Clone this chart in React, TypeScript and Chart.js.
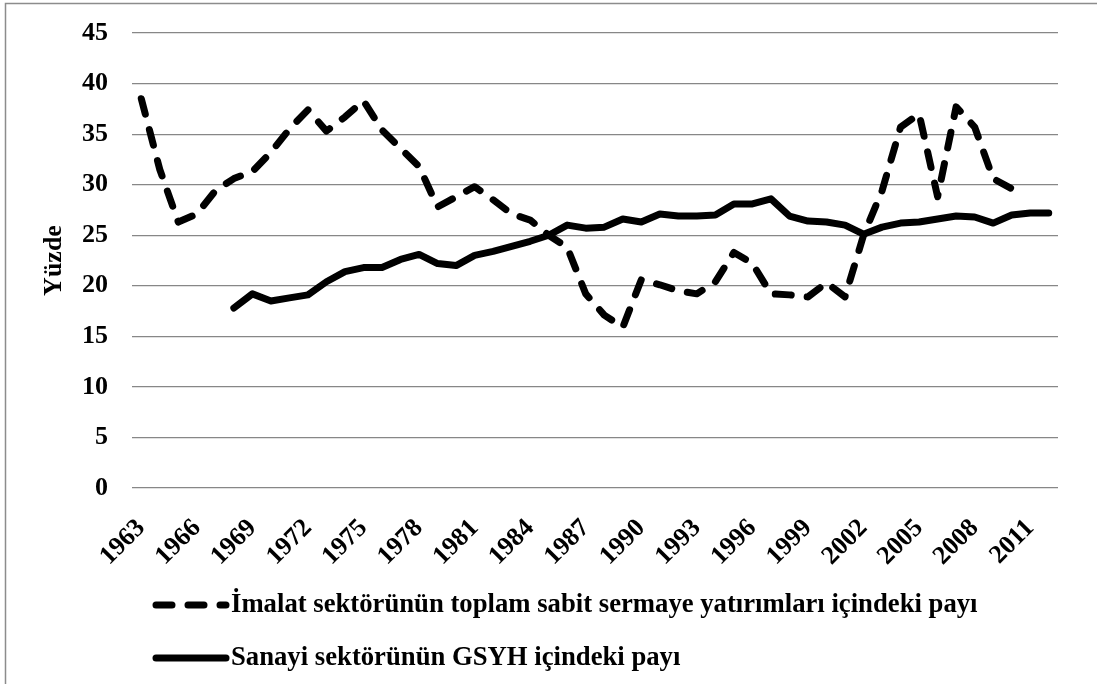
import React, { useEffect, useRef } from 'react';
import { Chart, registerables } from 'chart.js';

Chart.register(...registerables);

const years = [
  '1963', '1964', '1965', '1966', '1967', '1968', '1969', '1970', '1971', '1972',
  '1973', '1974', '1975', '1976', '1977', '1978', '1979', '1980', '1981', '1982',
  '1983', '1984', '1985', '1986', '1987', '1988', '1989', '1990', '1991', '1992',
  '1993', '1994', '1995', '1996', '1997', '1998', '1999', '2000', '2001', '2002',
  '2003', '2004', '2005', '2006', '2007', '2008', '2009', '2010', '2011', '2012',
];

const shownYears = [
  '1963', '1966', '1969', '1972', '1975', '1978', '1981', '1984', '1987',
  '1990', '1993', '1996', '1999', '2002', '2005', '2008', '2011',
];

// İmalat sektörünün toplam sabit sermaye yatırımları içindeki payı (1963–2010)
const imalat: (number | null)[] = [
  38.5, 31.5, 26.3, 27.1, 29.4, 30.6, 31.3, 33.2, 35.5, 37.4,
  35.3, 36.7, 38.3, 35.4, 33.6, 31.8, 27.8, 28.8, 29.8, 28.5,
  27.1, 26.5, 25.0, 23.8, 19.2, 17.1, 15.9, 20.6, 20.1, 19.5,
  19.2, 20.4, 23.3, 22.2, 19.2, 19.1, 18.9, 20.3, 18.9, 25.0,
  29.4, 35.7, 37.0, 28.8, 37.7, 35.7, 30.6, 29.6, null, null,
];

// Sanayi sektörünün GSYH içindeki payı (1968–2012)
const sanayi: (number | null)[] = [
  null, null, null, null, null, 17.8, 19.2, 18.5, 18.8, 19.1,
  20.4, 21.4, 21.8, 21.8, 22.6, 23.1, 22.2, 22.0, 23.0, 23.4,
  23.9, 24.4, 25.0, 26.0, 25.7, 25.8, 26.6, 26.3, 27.1, 26.9,
  26.9, 27.0, 28.1, 28.1, 28.6, 26.9, 26.4, 26.3, 26.0, 25.1,
  25.8, 26.2, 26.3, 26.6, 26.9, 26.8, 26.2, 27.0, 27.2, 27.2,
];

const seriesNames = [
  'İmalat sektörünün toplam sabit sermaye yatırımları içindeki payı',
  'Sanayi sektörünün GSYH içindeki payı',
];

const yTitle = 'Yüzde';
const yMin = 0;
const yMax = 45;
const yStep = 5;

const FONT = '"Liberation Serif", "Times New Roman", serif';

const framePlugin = {
  id: 'frame',
  beforeDraw(chart: any) {
    const { ctx, width, height } = chart;
    ctx.save();
    ctx.fillStyle = '#ffffff';
    ctx.fillRect(0, 0, width, height);
    ctx.strokeStyle = '#8c8c8c';
    ctx.lineWidth = 1.5;
    ctx.strokeRect(5.5, 3.5, width + 50, height + 50);
    ctx.restore();
  },
};

const legendPlugin = {
  id: 'customLegend',
  afterDraw(chart: any) {
    const { ctx, chartArea } = chart;
    const x0 = chartArea.left + 21;
    const lineLen = 76;
    const rows = [chartArea.bottom + 117, chartArea.bottom + 170];
    ctx.save();
    chart.data.datasets.forEach((ds: any, i: number) => {
      const y = rows[i];
      ctx.beginPath();
      ctx.strokeStyle = ds.borderColor;
      ctx.lineWidth = ds.borderWidth;
      ctx.lineCap = 'round';
      ctx.setLineDash(ds.borderDash || []);
      ctx.moveTo(x0 + 3, y);
      ctx.lineTo(x0 + lineLen - 3, y);
      ctx.stroke();
      ctx.setLineDash([]);
      ctx.fillStyle = '#000000';
      ctx.font = `bold 26.7px ${FONT}`;
      ctx.textBaseline = 'middle';
      ctx.textAlign = 'left';
      ctx.fillText(ds.label, x0 + lineLen + 2, y);
    });
    ctx.restore();
  },
};

export default function App() {
  const canvasRef = useRef<HTMLCanvasElement | null>(null);

  useEffect(() => {
    const canvas = canvasRef.current;
    if (!canvas) return;
    const chart = new Chart(canvas, {
      type: 'line',
      data: {
        labels: years,
        datasets: [
          {
            label: seriesNames[0],
            data: imalat,
            borderColor: '#000000',
            backgroundColor: '#000000',
            borderWidth: 7,
            borderDash: [16, 16],
            borderCapStyle: 'round',
            borderJoinStyle: 'round',
            pointRadius: 0,
            tension: 0,
            fill: false,
          },
          {
            label: seriesNames[1],
            data: sanayi,
            borderColor: '#000000',
            backgroundColor: '#000000',
            borderWidth: 7,
            borderCapStyle: 'round',
            borderJoinStyle: 'round',
            pointRadius: 0,
            tension: 0,
            fill: false,
          },
        ],
      },
      options: {
        animation: false,
        responsive: false,
        devicePixelRatio: 1,
        layout: { padding: { top: 33, right: 39, left: 0, bottom: 0 } },
        plugins: {
          legend: { display: false },
          tooltip: { enabled: false },
        },
        scales: {
          x: {
            type: 'category',
            offset: true,
            grid: { display: false },
            border: { display: false },
            afterFit: (s: any) => {
              s.height = 196;
              s.paddingLeft = 0;
              s.paddingRight = 0;
            },
            ticks: {
              autoSkip: false,
              minRotation: 45,
              maxRotation: 45,
              padding: 17,
              color: '#000000',
              font: { family: FONT, size: 26, weight: 'bold' },
              callback: (_v: any, idx: number) =>
                shownYears.includes(years[idx]) ? years[idx] : '',
            },
          },
          y: {
            min: yMin,
            max: yMax,
            afterFit: (s: any) => {
              s.width = 132;
              s.paddingTop = 0;
              s.paddingBottom = 0;
            },
            grid: { color: '#878787', lineWidth: 1.2, drawTicks: false },
            border: { display: false },
            ticks: {
              stepSize: yStep,
              padding: 24,
              color: '#000000',
              font: { family: FONT, size: 26, weight: 'bold' },
            },
            title: {
              display: true,
              text: yTitle,
              color: '#000000',
              font: { family: FONT, size: 26, weight: 'bold' },
              padding: { top: 39, bottom: 0 },
            },
          },
        },
      },
      plugins: [framePlugin, legendPlugin],
    } as any);
    return () => chart.destroy();
  }, []);

  return (
    <div style={{ position: 'fixed', left: 0, top: 0, width: 1097, height: 684, background: '#fff' }}>
      <canvas ref={canvasRef} width={1097} height={684} style={{ display: 'block' }} />
    </div>
  );
}
